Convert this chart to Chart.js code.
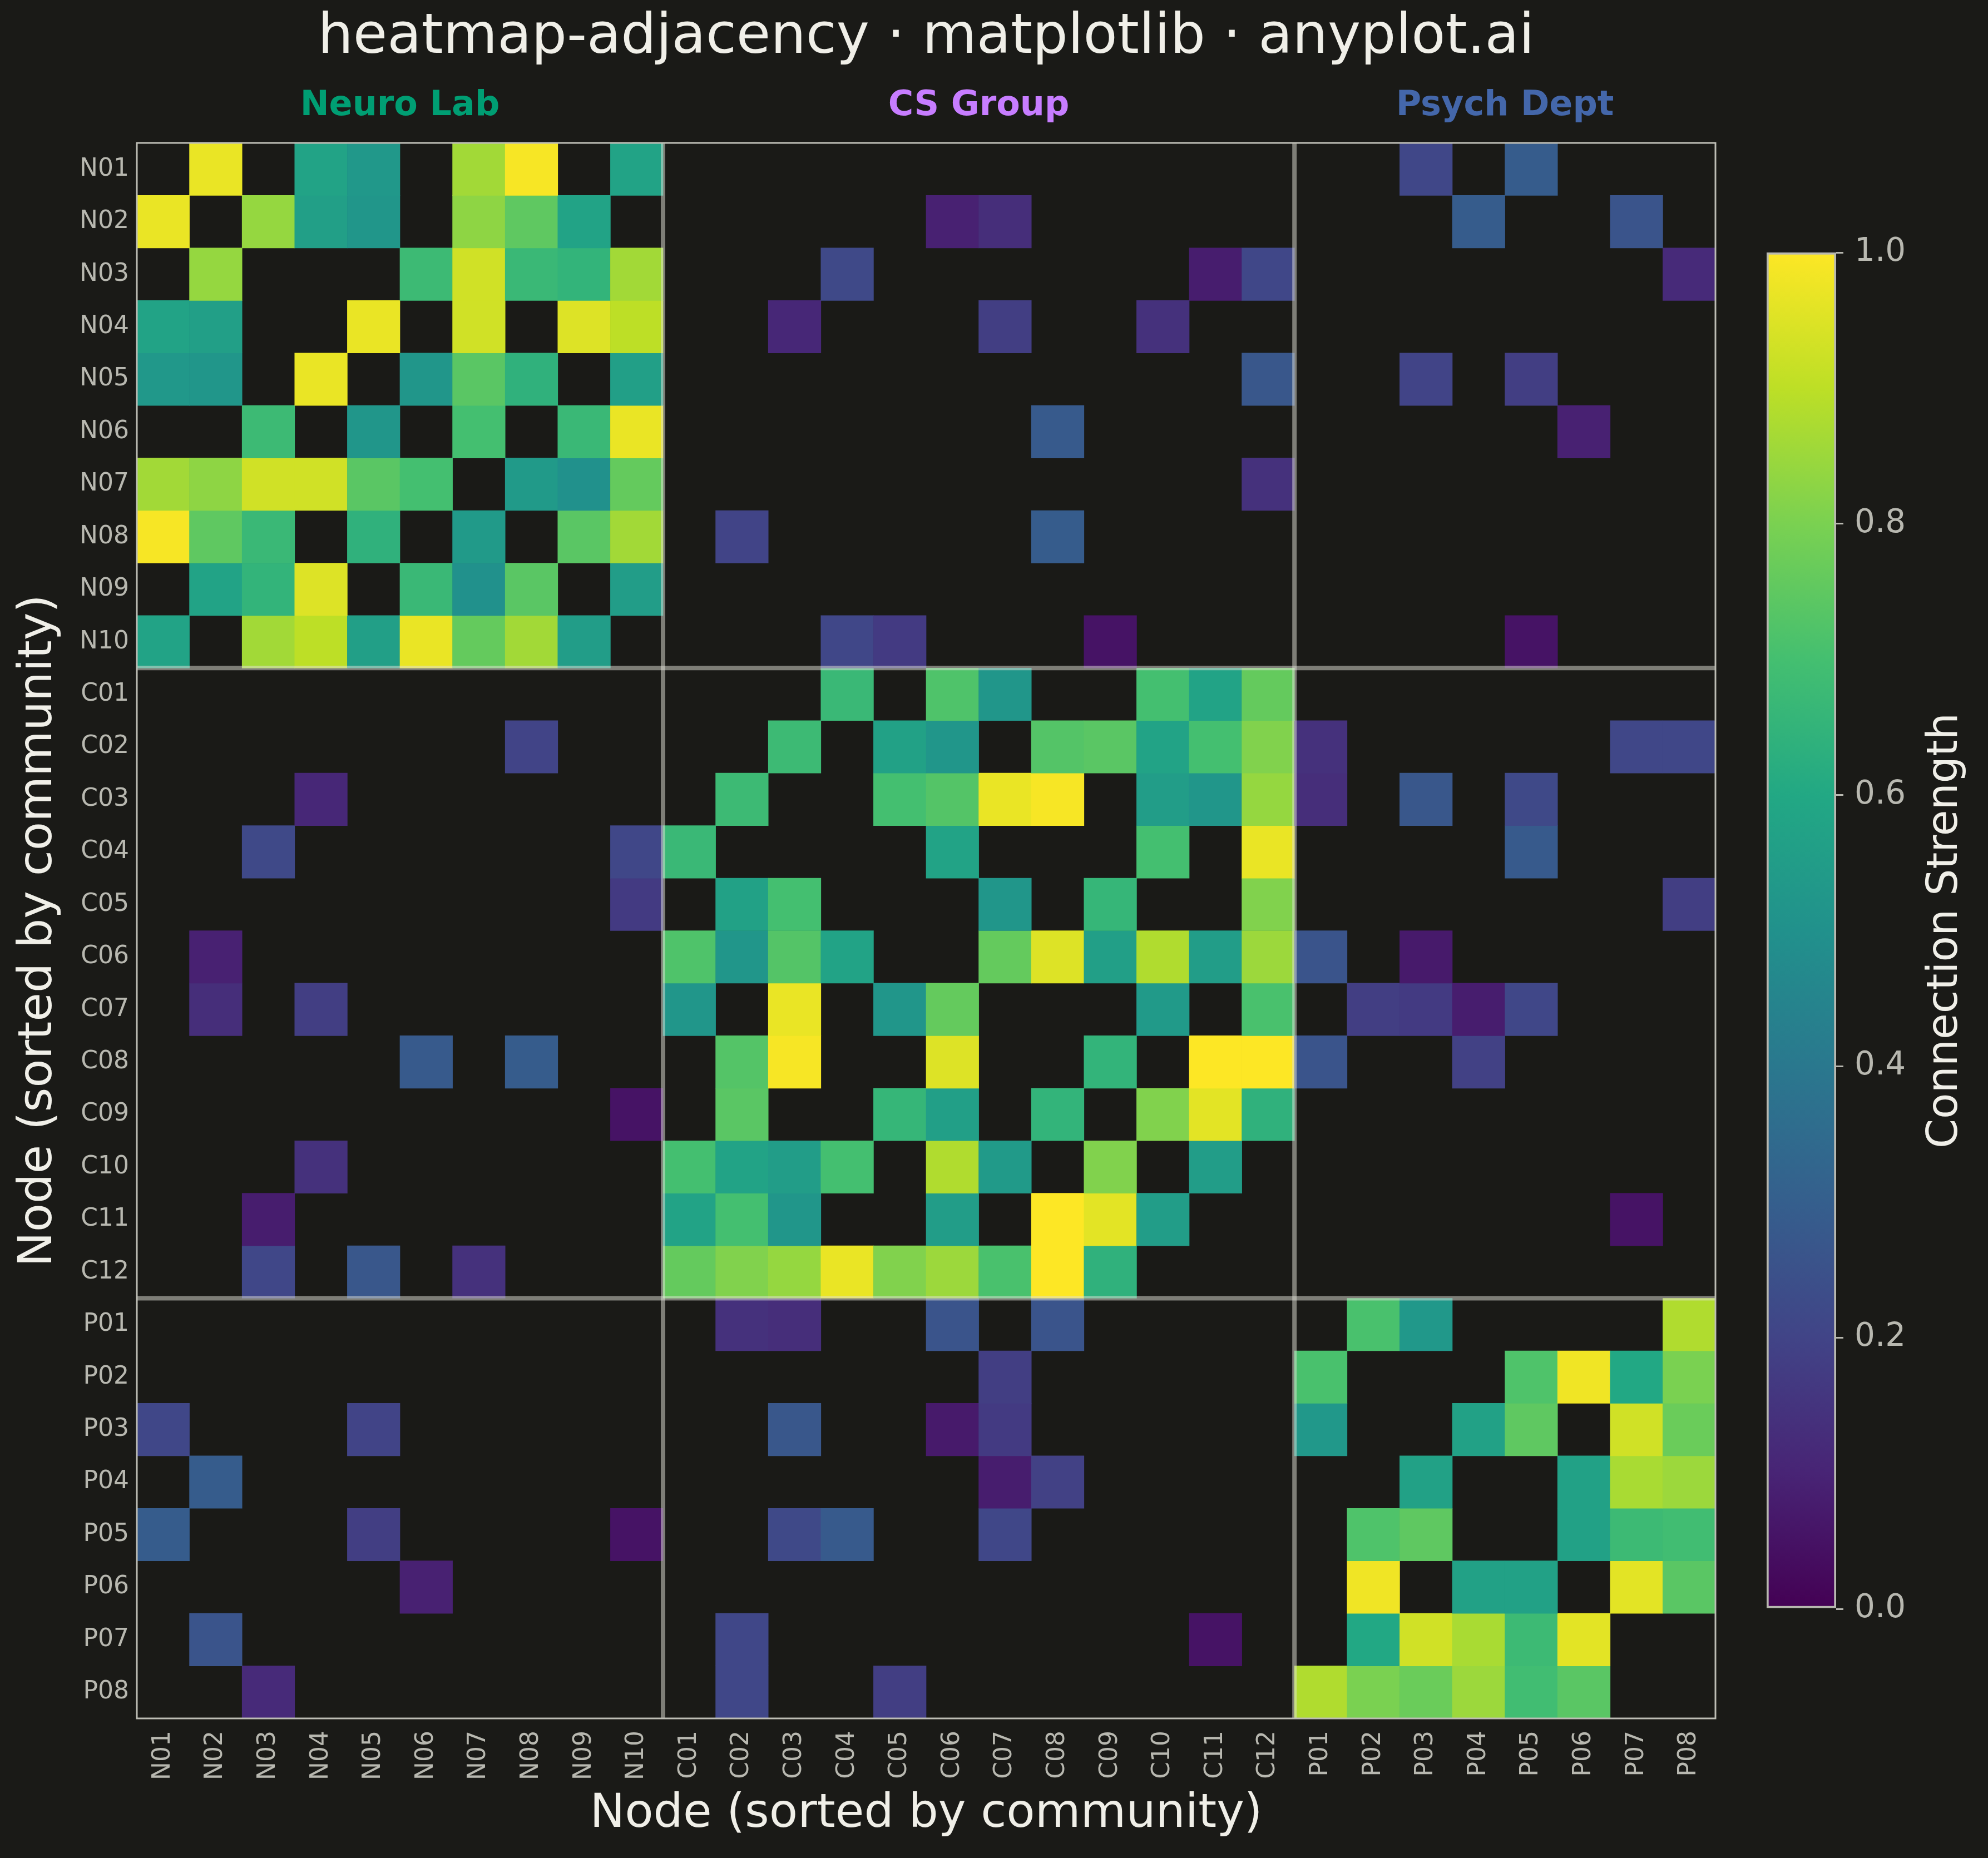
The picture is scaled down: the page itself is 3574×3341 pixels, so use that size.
<!DOCTYPE html>
<html>
<head>
    <meta charset="utf-8" />
    <script src="https://cdn.jsdelivr.net/npm/chart.js"></script>
    <style>
        html, body {
            margin: 0;
            padding: 0;
            background: #1a1a17;
        }
        #wrap {
            position: relative;
            width: 3574px;
            height: 3341px;
        }
        #matrixChart {
            position: absolute;
            left: 0;
            top: 0;
        }
        #colorbarChart {
            position: absolute;
            left: 3100px;
            top: 0;
        }
    </style>
</head>
<body>
    <div id="wrap">
        <canvas id="matrixChart" width="3574" height="3341"></canvas>
        <canvas id="colorbarChart" width="474" height="3341"></canvas>
    </div>

    <script>
        // Nodes sorted by community
        const nodeLabels = [
            'N01', 'N02', 'N03', 'N04', 'N05', 'N06', 'N07', 'N08', 'N09', 'N10',
            'C01', 'C02', 'C03', 'C04', 'C05', 'C06', 'C07', 'C08', 'C09', 'C10', 'C11', 'C12',
            'P01', 'P02', 'P03', 'P04', 'P05', 'P06', 'P07', 'P08'
        ];
        const communityNames = ['Neuro Lab', 'CS Group', 'Psych Dept'];
        const communitySizes = [10, 12, 8];
        const communityColors = ['#009E73', '#C77DFF', '#4467AA'];

        // Connection strength, one row per node (0 = no edge)
        //                N01  N02  N03  N04  N05  N06  N07  N08  N09  N10   C01  C02  C03  C04  C05  C06  C07  C08  C09  C10  C11  C12   P01  P02  P03  P04  P05  P06  P07  P08
        const neuroRows = [
            [0,   .97, 0,   .58, .53, 0,   .86, .99, 0,   .58,  0,   0,   0,   0,   0,   0,   0,   0,   0,   0,   0,   0,    0,   0,   .21, 0,   .29, 0,   0,   0  ],
            [.97, 0,   .84, .56, .52, 0,   .83, .75, .58, 0,    0,   0,   0,   0,   0,   .09, .13, 0,   0,   0,   0,   0,    0,   0,   0,   .29, 0,   0,   .26, 0  ],
            [0,   .84, 0,   0,   0,   .68, .93, .67, .65, .86,  0,   0,   0,   .22, 0,   0,   0,   0,   0,   0,   .08, .21,  0,   0,   0,   0,   0,   0,   0,   .12],
            [.58, .56, 0,   0,   .97, 0,   .93, 0,   .95, .90,  0,   0,   .11, 0,   0,   0,   .18, 0,   0,   .14, 0,   0,    0,   0,   0,   0,   0,   0,   0,   0  ],
            [.53, .52, 0,   .97, 0,   .52, .74, .64, 0,   .56,  0,   0,   0,   0,   0,   0,   0,   0,   0,   0,   0,   .27,  0,   0,   .20, 0,   .18, 0,   0,   0  ],
            [0,   0,   .68, 0,   .52, 0,   .70, 0,   .67, .97,  0,   0,   0,   0,   0,   0,   0,   .28, 0,   0,   0,   0,    0,   0,   0,   0,   0,   .09, 0,   0  ],
            [.86, .83, .93, .93, .74, .70, 0,   .54, .50, .76,  0,   0,   0,   0,   0,   0,   0,   0,   0,   0,   0,   .14,  0,   0,   0,   0,   0,   0,   0,   0  ],
            [.99, .75, .67, 0,   .64, 0,   .54, 0,   .74, .86,  0,   .20, 0,   0,   0,   0,   0,   .29, 0,   0,   0,   0,    0,   0,   0,   0,   0,   0,   0,   0  ],
            [0,   .58, .65, .95, 0,   .67, .50, .74, 0,   .55,  0,   0,   0,   0,   0,   0,   0,   0,   0,   0,   0,   0,    0,   0,   0,   0,   0,   0,   0,   0  ],
            [.58, 0,   .86, .90, .56, .97, .76, .86, .55, 0,    0,   0,   0,   .21, .17, 0,   0,   0,   .05, 0,   0,   0,    0,   0,   0,   0,   .05, 0,   0,   0  ]
        ];
        const csRows = [
            [0,   0,   0,   0,   0,   0,   0,   0,   0,   0,    0,   0,   0,   .67, 0,   .72, .52, 0,   0,   .70, .58, .76,  0,   0,   0,   0,   0,   0,   0,   0  ],
            [0,   0,   0,   0,   0,   0,   0,   .20, 0,   0,    0,   0,   .68, 0,   .57, .52, 0,   .73, .74, .58, .70, .81,  .14, 0,   0,   0,   0,   0,   .21, .21],
            [0,   0,   0,   .11, 0,   0,   0,   0,   0,   0,    0,   .68, 0,   0,   .70, .73, .97, .99, 0,   .55, .52, .84,  .13, 0,   .27, 0,   .22, 0,   0,   0  ],
            [0,   0,   .22, 0,   0,   0,   0,   0,   0,   .21,  .67, 0,   0,   0,   0,   .58, 0,   0,   0,   .70, 0,   .97,  0,   0,   0,   0,   .28, 0,   0,   0  ],
            [0,   0,   0,   0,   0,   0,   0,   0,   0,   .17,  0,   .57, .70, 0,   0,   0,   .52, 0,   .66, 0,   0,   .81,  0,   0,   0,   0,   0,   0,   0,   .18],
            [0,   .09, 0,   0,   0,   0,   0,   0,   0,   0,    .72, .52, .73, .58, 0,   0,   .76, .95, .56, .88, .55, .85,  .26, 0,   .07, 0,   0,   0,   0,   0  ],
            [0,   .13, 0,   .18, 0,   0,   0,   0,   0,   0,    .52, 0,   .97, 0,   .52, .76, 0,   0,   0,   .54, 0,   .71,  0,   .18, .17, .08, .21, 0,   0,   0  ],
            [0,   0,   0,   0,   0,   .28, 0,   .29, 0,   0,    0,   .73, .99, 0,   0,   .95, 0,   0,   .65, 0,   1.0, 1.0,  .26, 0,   0,   .19, 0,   0,   0,   0  ],
            [0,   0,   0,   0,   0,   0,   0,   0,   0,   .05,  0,   .74, 0,   0,   .66, .56, 0,   .65, 0,   .81, .96, .64,  0,   0,   0,   0,   0,   0,   0,   0  ],
            [0,   0,   0,   .14, 0,   0,   0,   0,   0,   0,    .70, .58, .55, .70, 0,   .88, .54, 0,   .81, 0,   .55, 0,    0,   0,   0,   0,   0,   0,   0,   0  ],
            [0,   0,   .08, 0,   0,   0,   0,   0,   0,   0,    .58, .70, .52, 0,   0,   .55, 0,   1.0, .96, .55, 0,   0,    0,   0,   0,   0,   0,   0,   .05, 0  ],
            [0,   0,   .21, 0,   .27, 0,   .14, 0,   0,   0,    .76, .81, .84, .97, .81, .85, .71, 1.0, .64, 0,   0,   0,    0,   0,   0,   0,   0,   0,   0,   0  ]
        ];
        const psychRows = [
            [0,   0,   0,   0,   0,   0,   0,   0,   0,   0,    0,   .14, .13, 0,   0,   .26, 0,   .26, 0,   0,   0,   0,    0,   .71, .53, 0,   0,   0,   0,   .88],
            [0,   0,   0,   0,   0,   0,   0,   0,   0,   0,    0,   0,   0,   0,   0,   0,   .18, 0,   0,   0,   0,   0,    .71, 0,   0,   0,   .72, .98, .60, .80],
            [.21, 0,   0,   0,   .20, 0,   0,   0,   0,   0,    0,   0,   .27, 0,   0,   .07, .17, 0,   0,   0,   0,   0,    .53, 0,   0,   .57, .75, 0,   .93, .77],
            [0,   .29, 0,   0,   0,   0,   0,   0,   0,   0,    0,   0,   0,   0,   0,   0,   .08, .19, 0,   0,   0,   0,    0,   0,   .57, 0,   0,   .57, .87, .85],
            [.29, 0,   0,   0,   .18, 0,   0,   0,   0,   .05,  0,   0,   .22, .28, 0,   0,   .21, 0,   0,   0,   0,   0,    0,   .72, .75, 0,   0,   .57, .68, .69],
            [0,   0,   0,   0,   0,   .09, 0,   0,   0,   0,    0,   0,   0,   0,   0,   0,   0,   0,   0,   0,   0,   0,    0,   .98, 0,   .57, .57, 0,   .96, .74],
            [0,   .26, 0,   0,   0,   0,   0,   0,   0,   0,    0,   .21, 0,   0,   0,   0,   0,   0,   0,   0,   .05, 0,    0,   .60, .93, .87, .68, .96, 0,   0  ],
            [0,   0,   .12, 0,   0,   0,   0,   0,   0,   0,    0,   .21, 0,   0,   .18, 0,   0,   0,   0,   0,   0,   0,    .88, .80, .77, .85, .69, .74, 0,   0  ]
        ];
        const colorbarTicks = [0, 0.2, 0.4, 0.6, 0.8, 1.0];

        const strengthRows = neuroRows.concat(csRows, psychRows);

        // viridis colormap
        const VIRIDIS = ['#440154', '#482475', '#414487', '#355f8d', '#2a788e', '#21918c',
                         '#22a884', '#44bf70', '#7ad151', '#bddf26', '#fde725'];
        function hexRgb(h) {
            return [parseInt(h.slice(1, 3), 16), parseInt(h.slice(3, 5), 16), parseInt(h.slice(5, 7), 16)];
        }
        function viridis(t) {
            t = Math.max(0, Math.min(1, t));
            const s = t * 10;
            const i = Math.min(9, Math.floor(s));
            const f = s - i;
            const a = hexRgb(VIRIDIS[i]), b = hexRgb(VIRIDIS[i + 1]);
            const c = a.map((v, k) => Math.round(v + (b[k] - v) * f));
            return 'rgb(' + c.join(',') + ')';
        }

        const TEXT = '#f0efe8';
        const TICK = '#b8b8b0';
        Chart.defaults.font.family = "'DejaVu Sans', sans-serif";

        // one dataset per row: each cell is a floating bar spanning one row
        const datasets = strengthRows.map((row, r) => ({
            label: nodeLabels[r],
            data: row.map(w => (w > 0 ? [r - 0.5, r + 0.5] : null)),
            backgroundColor: row.map(w => viridis(w)),
            borderWidth: 0,
            barPercentage: 1,
            categoryPercentage: 1,
            grouped: false
        }));

        const blockEdges = [];
        let acc = 0;
        communitySizes.forEach(n => { blockEdges.push([acc, acc + n - 1]); acc += n; });

        const matrixDecor = {
            id: 'matrixDecor',
            afterDatasetsDraw(chart) {
                const {ctx, chartArea: a, scales: {x, y}} = chart;
                ctx.save();
                // community separators (semi-transparent, crossings come out lighter)
                ctx.strokeStyle = 'rgba(225, 225, 215, 0.5)';
                ctx.lineWidth = 8;
                blockEdges.slice(0, -1).forEach(([, end]) => {
                    const px = x.getPixelForValue(end + 0.5);
                    const py = y.getPixelForValue(end + 0.5);
                    ctx.beginPath();
                    ctx.moveTo(px, a.top);
                    ctx.lineTo(px, a.bottom);
                    ctx.stroke();
                    ctx.beginPath();
                    ctx.moveTo(a.left, py);
                    ctx.lineTo(a.right, py);
                    ctx.stroke();
                });
                // frame
                ctx.strokeStyle = '#bdbdb5';
                ctx.lineWidth = 3;
                ctx.strokeRect(a.left, a.top, a.right - a.left, a.bottom - a.top);
                // community names above the blocks
                ctx.font = "bold 62px 'DejaVu Sans'";
                ctx.textAlign = 'center';
                ctx.textBaseline = 'middle';
                blockEdges.forEach(([s, e], i) => {
                    ctx.fillStyle = communityColors[i];
                    ctx.fillText(communityNames[i], x.getPixelForValue((s + e) / 2), a.top - 66);
                });
                ctx.restore();
            }
        };

        new Chart(document.getElementById('matrixChart'), {
            type: 'bar',
            data: { labels: nodeLabels, datasets: datasets },
            options: {
                responsive: false,
                animation: false,
                devicePixelRatio: 1,
                layout: { padding: { left: 0, right: 490, top: 0, bottom: 0 } },
                plugins: {
                    legend: { display: false },
                    tooltip: { enabled: false },
                    title: {
                        display: true,
                        text: 'heatmap-adjacency · matplotlib · anyplot.ai',
                        color: TEXT,
                        font: { size: 100, weight: 'normal' },
                        fullSize: false,
                        padding: { top: 9, bottom: 128 }
                    }
                },
                scales: {
                    x: {
                        type: 'category',
                        grid: { display: false, drawTicks: false },
                        border: { display: false },
                        ticks: {
                            autoSkip: false,
                            maxRotation: 90,
                            minRotation: 90,
                            color: TICK,
                            font: { size: 44 },
                            padding: 22
                        },
                        title: {
                            display: true,
                            text: 'Node (sorted by community)',
                            color: TEXT,
                            font: { size: 84 },
                            padding: { top: 0, bottom: 27 }
                        },
                        afterFit(scale) { scale.height = 251; }
                    },
                    y: {
                        type: 'linear',
                        reverse: true,
                        min: -0.5,
                        max: 29.5,
                        grid: { display: false, drawTicks: false },
                        border: { display: false },
                        afterBuildTicks(scale) {
                            scale.ticks = nodeLabels.map((_, i) => ({ value: i }));
                        },
                        ticks: {
                            autoSkip: false,
                            color: TICK,
                            font: { size: 44 },
                            padding: 14,
                            callback: v => nodeLabels[v]
                        },
                        title: {
                            display: true,
                            text: 'Node (sorted by community)',
                            color: TEXT,
                            font: { size: 84 },
                            padding: { top: 20, bottom: 0 }
                        },
                        afterFit(scale) { scale.width = 246; }
                    }
                }
            },
            plugins: [matrixDecor]
        });

        // colorbar
        const colorbarLabel = {
            id: 'colorbarLabel',
            afterDraw(chart) {
                const {ctx, chartArea: a} = chart;
                ctx.save();
                ctx.translate(a.right + 197, (a.top + a.bottom) / 2);
                ctx.rotate(-Math.PI / 2);
                ctx.font = "76px 'DejaVu Sans'";
                ctx.fillStyle = TEXT;
                ctx.textAlign = 'center';
                ctx.textBaseline = 'middle';
                ctx.fillText('Connection Strength', 0, 0);
                ctx.restore();
            }
        };

        new Chart(document.getElementById('colorbarChart'), {
            type: 'bar',
            data: {
                labels: [''],
                datasets: [{
                    data: [[colorbarTicks[0], colorbarTicks[colorbarTicks.length - 1]]],
                    backgroundColor(context) {
                        const {ctx, chartArea} = context.chart;
                        if (!chartArea) return VIRIDIS[5];
                        const g = ctx.createLinearGradient(0, chartArea.bottom, 0, chartArea.top);
                        VIRIDIS.forEach((c, i) => g.addColorStop(i / 10, c));
                        return g;
                    },
                    borderColor: '#b8b8b0',
                    borderWidth: 4,
                    borderSkipped: false,
                    barPercentage: 1,
                    categoryPercentage: 1
                }]
            },
            options: {
                responsive: false,
                animation: false,
                devicePixelRatio: 1,
                layout: { padding: { left: 76, right: 0, top: 454, bottom: 448 } },
                plugins: { legend: { display: false }, tooltip: { enabled: false } },
                scales: {
                    x: { display: false },
                    y: {
                        position: 'right',
                        min: 0,
                        max: 1,
                        afterBuildTicks(scale) {
                            scale.ticks = colorbarTicks.map(v => ({ value: v }));
                        },
                        grid: {
                            display: true,
                            drawOnChartArea: false,
                            drawTicks: true,
                            tickLength: 13,
                            color: '#b8b8b0',
                            lineWidth: 3
                        },
                        border: { display: false },
                        ticks: {
                            color: TICK,
                            font: { size: 58 },
                            padding: 20,
                            callback: v => v.toFixed(1)
                        },
                        afterFit(scale) { scale.width = 273; }
                    }
                }
            },
            plugins: [colorbarLabel]
        });
    </script>
</body>
</html>
